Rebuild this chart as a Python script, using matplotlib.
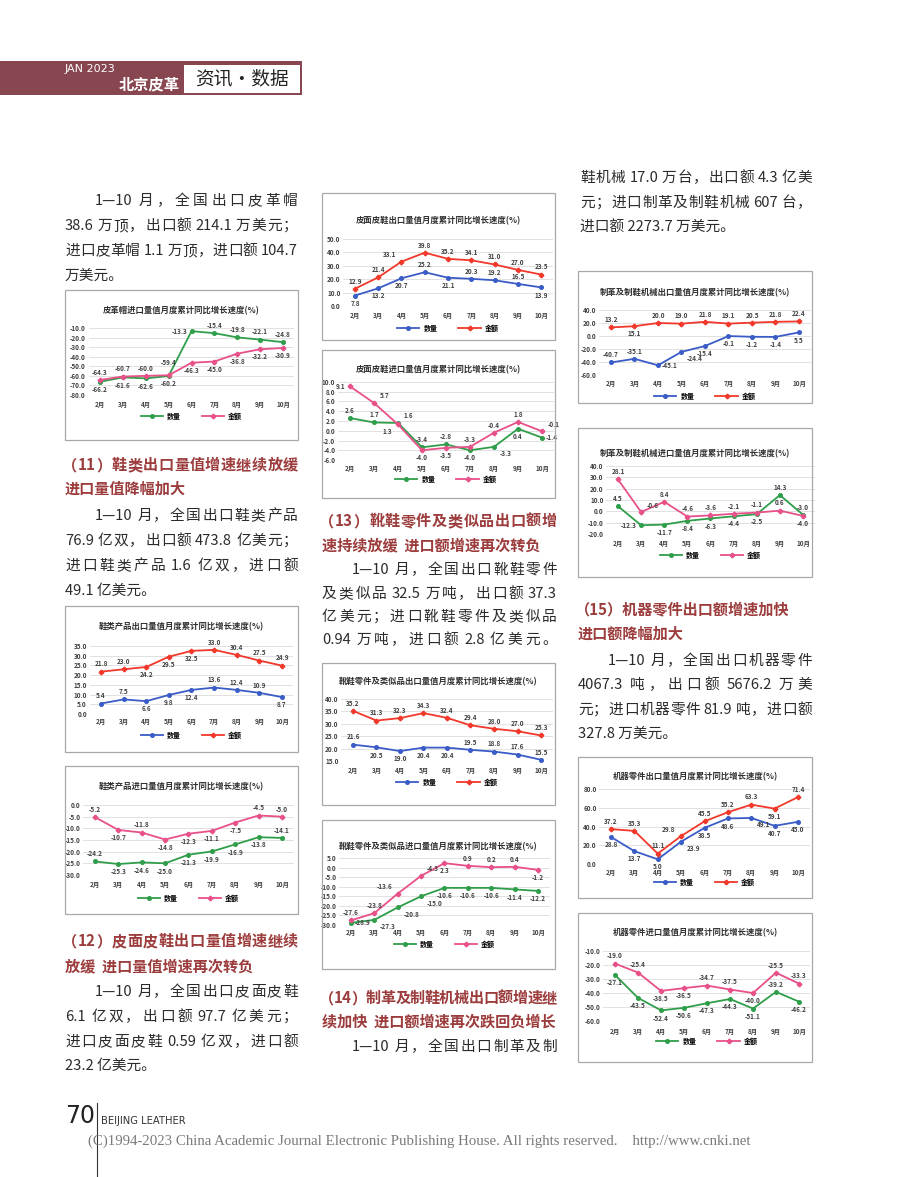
import re
import matplotlib
matplotlib.use("Agg")
import matplotlib.pyplot as plt
from matplotlib.patches import Rectangle
from matplotlib.lines import Line2D

plt.rcParams['font.family'] = ['Noto Sans CJK SC', 'DejaVu Sans']

W, H = 920, 1177
months = ['2月', '3月', '4月', '5月', '6月', '7月', '8月', '9月', '10月']

# ---------------- data ----------------
hat_imp_qty = [-66.2, -61.6, -62.6, -60.2, -13.3, -15.4, -19.8, -22.1, -24.8]
hat_imp_val = [-64.3, -60.7, -60.0, -59.4, -46.3, -45.0, -36.8, -32.2, -30.9]
shoe_exp_qty = [5.4, 7.5, 6.6, 9.8, 12.4, 13.6, 12.4, 10.9, 8.7]
shoe_exp_val = [21.8, 23.0, 24.2, 29.5, 32.5, 33.0, 30.4, 27.5, 24.9]
shoe_imp_qty = [-24.2, -25.3, -24.6, -25.0, -21.3, -19.9, -16.9, -13.8, -14.1]
shoe_imp_val = [-5.2, -10.7, -11.8, -14.8, -12.3, -11.1, -7.5, -4.5, -5.0]
lshoe_exp_qty = [7.8, 13.2, 20.7, 25.2, 21.1, 20.3, 19.2, 16.5, 13.9]
lshoe_exp_val = [12.9, 21.4, 33.1, 39.8, 35.2, 34.1, 31.0, 27.0, 23.5]
lshoe_imp_qty = [2.6, 1.7, 1.6, -3.4, -2.8, -4.0, -3.3, 0.4, -1.4]
lshoe_imp_val = [9.1, 5.7, 1.3, -4.0, -3.5, -3.3, -0.4, 1.8, -0.1]
part_exp_qty = [21.6, 20.5, 19.0, 20.4, 20.4, 19.5, 18.8, 17.6, 15.5]
part_exp_val = [35.2, 31.3, 32.3, 34.3, 32.4, 29.4, 28.0, 27.0, 25.3]
part_imp_qty = [-28.9, -27.3, -20.8, -15.0, -10.6, -10.6, -10.6, -11.4, -12.2]
part_imp_val = [-27.6, -23.8, -13.6, -4.3, 2.3, 0.9, 0.2, 0.4, -1.2]
mach_exp_qty = [-40.7, -35.1, -45.1, -24.4, -15.4, -0.1, -1.2, -1.4, 5.5]
mach_exp_val = [13.2, 15.1, 20.0, 19.0, 21.8, 19.1, 20.5, 21.8, 22.4]
mach_imp_qty = [4.5, -12.3, -11.7, -8.4, -6.3, -4.4, -2.5, 14.3, -3.0]
mach_imp_val = [28.1, -0.6, 8.4, -4.6, -3.6, -2.1, -1.1, 0.6, -4.0]
mpart_exp_qty = [28.8, 13.7, 5.0, 23.9, 38.5, 48.6, 49.1, 40.7, 45.0]
mpart_exp_val = [37.2, 35.3, 11.1, 29.8, 45.5, 55.2, 63.3, 59.1, 71.4]
mpart_imp_qty = [-27.1, -43.5, -52.4, -50.6, -47.3, -44.3, -51.1, -39.2, -46.2]
mpart_imp_val = [-19.0, -25.4, -38.5, -36.5, -34.7, -37.5, -40.0, -25.5, -33.3]

fig = plt.figure(figsize=(W / 100, H / 100), dpi=100)
renderer = fig.canvas.get_renderer()


def fy(y):
    return 1 - y / H


EXP_COLORS = ('#3a5cc6', '#f2382a')
IMP_COLORS = ('#2f9e4a', '#e8508a')

OFF = {'a': (0, 3, 'center', 'bottom'), 'A': (0, 6.5, 'center', 'bottom'),
       'b': (0, -3, 'center', 'top'),
       'l': (-3, 0, 'right', 'center'), 'r': (3, 0, 'left', 'center'),
       'al': (-4, 2.5, 'right', 'bottom'), 'ar': (4, 2.5, 'left', 'bottom'),
       'bl': (-4, -2.5, 'right', 'top'), 'br': (4, -2.5, 'left', 'top')}


def chart(box, c0, c8, ytop, ybot, yticks, title_y, xlab_y, leg_y, title,
          qty, val, qpos, vpos, export):
    x0, y0, x1, y1 = box
    fig.add_artist(Rectangle((x0 / W, fy(y1)), (x1 - x0) / W, (y1 - y0) / H,
                             transform=fig.transFigure, fill=False,
                             ec='#a8a8a8', lw=0.9))
    band = (c8 - c0) / 8
    xl, xr = c0 - band / 2, c8 + band / 2
    ax = fig.add_axes([xl / W, fy(ybot), (xr - xl) / W, (ybot - ytop) / H])
    ax.set_xlim(-0.5, 8.5)
    ax.set_ylim(min(yticks), max(yticks))
    ax.set_yticks(yticks)
    ax.set_yticklabels([f'{v:.1f}' for v in yticks], fontsize=4.6,
                       fontweight='bold', color='#404040')
    ax.set_xticks(range(9))
    ax.set_xticklabels(months, fontsize=4.6, fontweight='bold', color='#404040')
    ax.tick_params(axis='y', length=0, pad=2)
    ax.tick_params(axis='x', length=0, pad=(xlab_y - ybot - 3) * 0.72)
    for s in ax.spines.values():
        s.set_visible(False)
    ax.yaxis.grid(True, color='#dcdcdc', lw=0.6)
    ax.set_axisbelow(True)
    ax.patch.set_alpha(0)
    cq, cv = EXP_COLORS if export else IMP_COLORS
    x = list(range(9))
    ax.plot(x, qty, color=cq, lw=1.3, marker='o', ms=2.6, clip_on=False)
    ax.plot(x, val, color=cv, lw=1.3, marker='P', ms=3.0, clip_on=False)
    for series, pos in ((qty, qpos), (val, vpos)):
        for i, v in enumerate(series):
            dx, dy, ha, va = OFF[pos[i]]
            ax.annotate(f'{v:.1f}', (i, v), xytext=(dx, dy),
                        textcoords='offset points', ha=ha, va=va,
                        fontsize=4.6, color='#404040', fontweight='bold')
    handles = [Line2D([], [], color=cq, lw=1.3, marker='o', ms=2.6),
               Line2D([], [], color=cv, lw=1.3, marker='P', ms=3.0)]
    ax.legend(handles, ['数量', '金额'], loc='center',
              bbox_to_anchor=(0.5, (ybot - leg_y) / (ybot - ytop)), ncol=2,
              frameon=False, handlelength=3.2, columnspacing=3,
              handletextpad=0.6, prop={'weight': 'bold', 'size': 5})
    fig.text((x0 + x1) / 2 / W, fy(title_y), title, ha='center', va='center',
             fontsize=6, color='#303030', fontweight='bold')


chart((65, 290, 298, 440), 100, 283, 328, 395, [-80, -70, -60, -50, -40, -30, -20, -10],
      311, 404, 416, '皮革帽进口量值月度累计同比增长速度(%)',
      hat_imp_qty, hat_imp_val, 'bbbblaaaa', ['a', 'a', 'a', 'A', 'b', 'b', 'b', 'b', 'b'], False)
chart((65, 606, 298, 752), 101, 282, 646, 714, [0, 5, 10, 15, 20, 25, 30, 35],
      627, 721, 735, '鞋类产品出口量值月度累计同比增长速度(%)',
      shoe_exp_qty, shoe_exp_val, 'aabbbaaab', 'aabbbaaaa', True)
chart((65, 766, 298, 914), 95, 282, 805, 875, [-30, -25, -20, -15, -10, -5, 0],
      787, 884, 898, '鞋类产品进口量值月度累计同比增长速度(%)',
      shoe_imp_qty, shoe_imp_val, 'abbbbbbba', 'ababbbbaa', False)
chart((322, 193, 555, 340), 355, 541, 239, 306, [0, 10, 20, 30, 40, 50],
      221, 315, 328, '皮面皮鞋出口量值月度累计同比增长速度(%)',
      lshoe_exp_qty, lshoe_exp_val, 'bbbabaaab', ['a', 'a', 'al', 'a', 'a', 'a', 'a', 'a', 'a'], True)
chart((322, 350, 555, 498), 350, 542, 382, 460, [-6, -4, -2, 0, 2, 4, 6, 8, 10],
      370, 468, 479, '皮面皮鞋进口量值月度累计同比增长速度(%)',
      lshoe_imp_qty, lshoe_imp_val, ['a', 'a', 'ar', 'a', 'a', 'b', 'br', 'b', 'r'],
      ['l', 'ar', 'bl', 'b', 'b', 'a', 'a', 'a', 'ar'], False)
chart((322, 663, 555, 805), 353, 541, 699, 761, [15, 20, 25, 30, 35, 40],
      682, 770, 782, '靴鞋零件及类似品出口量值月度累计同比增长速度(%)',
      part_exp_qty, part_exp_val, 'abbbbaaaa', 'aaaaaaaaa', True)
chart((322, 820, 555, 969), 351, 538, 858, 925, [-30, -25, -20, -15, -10, -5, 0, 5],
      847, 932, 944, '靴鞋零件及类似品进口量值月度累计同比增长速度(%)',
      part_imp_qty, part_imp_val, ['r', 'br', 'br', 'br', 'b', 'b', 'b', 'b', 'b'],
      ['a', 'a', 'al', 'ar', 'b', 'a', 'a', 'a', 'b'], False)
chart((578, 271, 812, 403), 611, 799, 310, 375, [-60, -40, -20, 0, 20, 40],
      293, 383, 396, '制革及制鞋机械出口量值月度累计同比增长速度(%)',
      mach_exp_qty, mach_exp_val, ['a', 'a', 'r', 'br', 'b', 'b', 'b', 'b', 'b'],
      'abaaaaaaa', True)
chart((578, 428, 812, 577), 618, 803, 466, 534, [-20, -10, 0, 10, 20, 30, 40],
      454, 543, 555, '制革及制鞋机械进口量值月度累计同比增长速度(%)',
      mach_imp_qty, mach_imp_val, ['a', 'l', 'b', 'b', 'b', 'b', 'b', 'a', 'a'],
      ['a', 'ar', 'a', 'a', 'a', 'a', 'a', 'a', 'b'], False)
chart((578, 757, 812, 898), 611, 798, 789, 864, [0, 20, 40, 60, 80],
      777, 872, 882, '机器零件出口量值月度累计同比增长速度(%)',
      mpart_exp_qty, mpart_exp_val, ['b', 'b', 'b', 'br', 'b', 'b', 'br', 'b', 'b'],
      ['a', 'a', 'a', 'al', 'a', 'a', 'a', 'b', 'a'], True)
chart((578, 913, 812, 1062), 615, 799, 951, 1021, [-60, -50, -40, -30, -20, -10],
      933, 1031, 1041, '机器零件进口量值月度累计同比增长速度(%)',
      mpart_imp_qty, mpart_imp_val, 'bbbbbbbab', 'aabbaabaa', False)

# ---------------- body text ----------------
BODY = dict(fontsize=10.6, color='#2b2b2b', va='center', ha='left')
HEAD = dict(fontsize=10.9, color='#9c3c3c', va='center', ha='left', fontweight='bold')

TOKEN = re.compile(r'[0-9A-Za-z.—]+|\s+|.')


def jtext(x, y, s, style, right=None):
    """Draw a line of text; if right is given, justify it to that pixel edge."""
    if right is None:
        fig.text(x / W, fy(y), s, **style)
        return
    toks = TOKEN.findall(s)
    items = []
    for tk in toks:
        if tk.isspace():
            items.append(('sp', None))
            continue
        tobj = fig.text(0, 0, tk, **style)
        w = tobj.get_window_extent(renderer).width
        items.append((tobj, w))
    space_w = 3.0
    natural = sum(w if o != 'sp' else space_w for o, w in items)
    words = [it for it in items if it[0] != 'sp']
    gaps = max(len(words) - 1, 1)
    extra = ((right - x) - natural) / gaps
    cx = x
    first = True
    for o, w in items:
        if o == 'sp':
            cx += space_w
            continue
        if not first:
            cx += extra
        o.set_position((cx / W, fy(y)))
        cx += w
        first = False


L, M, R = 298, 557, 812
body_lines = [
    (95, 201, '1—10 月，全国出口皮革帽', L),
    (65, 226, '38.6 万顶，出口额 214.1 万美元；', L),
    (65, 251, '进口皮革帽 1.1 万顶，进口额 104.7', L),
    (65, 276, '万美元。', None),
    (95, 516, '1—10 月，全国出口鞋类产品', L),
    (65, 541, '76.9 亿双，出口额 473.8 亿美元；', L),
    (65, 566, '进口鞋类产品 1.6 亿双，进口额', L),
    (65, 591, '49.1 亿美元。', None),
    (95, 992, '1—10 月，全国出口皮面皮鞋', L),
    (65, 1017, '6.1 亿双，出口额 97.7 亿美元；', L),
    (65, 1042, '进口皮面皮鞋 0.59 亿双，进口额', L),
    (65, 1066, '23.2 亿美元。', None),
    (352, 570, '1—10 月，全国出口靴鞋零件', M),
    (322, 594, '及类似品 32.5 万吨，出口额 37.3', M),
    (322, 617, '亿美元；进口靴鞋零件及类似品', M),
    (322, 640, '0.94 万吨，进口额 2.8 亿美元。', M),
    (352, 1047, '1—10 月，全国出口制革及制', M),
    (580, 178, '鞋机械 17.0 万台，出口额 4.3 亿美', R),
    (580, 203, '元；进口制革及制鞋机械 607 台，', R),
    (580, 228, '进口额 2273.7 万美元。', None),
    (608, 661, '1—10 月，全国出口机器零件', R),
    (578, 685, '4067.3 吨，出口额 5676.2 万美', R),
    (578, 710, '元；进口机器零件 81.9 吨，进口额', R),
    (578, 734, '327.8 万美元。', None),
]
for x, y, s, r in body_lines:
    jtext(x, y, s, BODY, r)

head_lines = [
    (62, 465, '（11）鞋类出口量值增速继续放缓', L),
    (65, 489, '进口量值降幅加大', None),
    (62, 941, '（12）皮面皮鞋出口量值增速继续', L),
    (65, 966, '放缓  进口量值增速再次转负', None),
    (319, 521, '（13）靴鞋零件及类似品出口额增', M),
    (322, 545, '速持续放缓  进口额增速再次转负', None),
    (319, 998, '（14）制革及制鞋机械出口额增速继', M),
    (322, 1022, '续加快  进口额增速再次跌回负增长', None),
    (575, 609, '（15）机器零件出口额增速加快', None),
    (578, 634, '进口额降幅加大', None),
]
for x, y, s, r in head_lines:
    jtext(x, y, s, HEAD, r)

# ---------------- header ----------------
fig.add_artist(Rectangle((0, fy(95)), 302 / W, 34 / H, transform=fig.transFigure,
                         fc='#874650', ec='none'))
fig.add_artist(Rectangle((184 / W, fy(93)), 116 / W, 28 / H, transform=fig.transFigure,
                         fc='white', ec='none'))
fig.text(65 / W, fy(69), 'JAN 2023', fontsize=8, color='white', va='center',
         ha='left', family=['DejaVu Sans'])
fig.text(180 / W, fy(84), '北京皮革', fontsize=11, color='white', va='center',
         ha='right', fontweight='bold', style='italic')
fig.text(242 / W, fy(79), '资讯·数据', fontsize=13.5, color='#222222', va='center',
         ha='center')

# ---------------- footer ----------------
fig.text(95 / W, fy(1116), '70', fontsize=17, color='#222222', va='center', ha='right',
         family=['DejaVu Sans'])
fig.add_artist(Line2D([97 / W, 97 / W], [fy(1103), 0], transform=fig.transFigure,
                      color='#333333', lw=0.8))
fig.text(101 / W, fy(1121), 'BEIJING LEATHER', fontsize=7.2, color='#333333',
         va='center', ha='left', family=['DejaVu Sans'])
fig.text(88 / W, fy(1141),
         '(C)1994-2023 China Academic Journal Electronic Publishing House. All rights reserved.    http://www.cnki.net',
         fontsize=10.75, color='#7a7a7a', va='center', ha='left',
         family=['Liberation Serif'])

fig.savefig('out.png', dpi=100, facecolor='white')
